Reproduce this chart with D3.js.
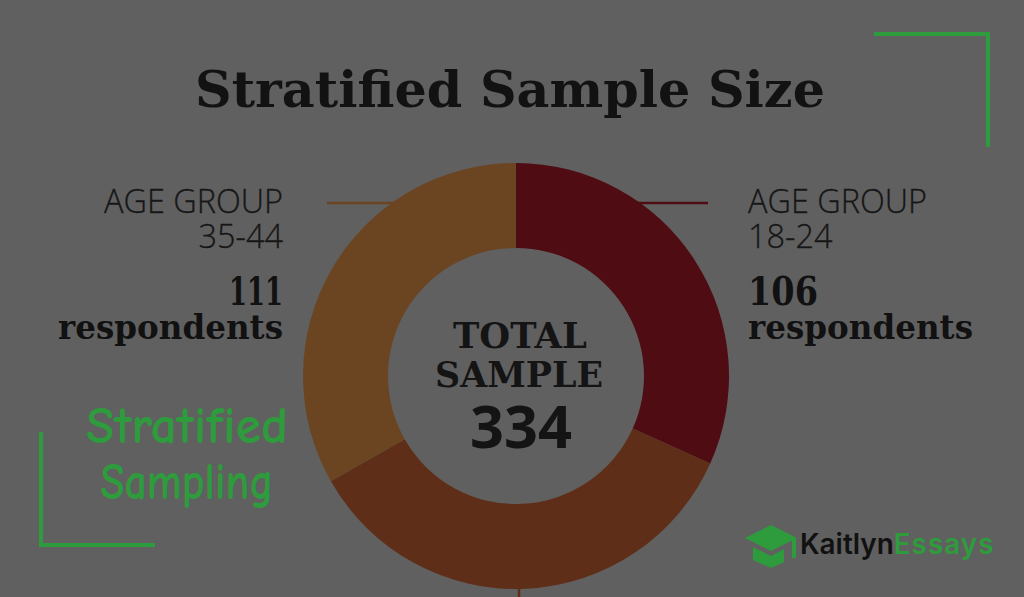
<!DOCTYPE html>
<html><head><meta charset="utf-8">
<script src="https://cdn.jsdelivr.net/npm/d3@7"></script>
<style>html,body{margin:0;padding:0;background:#606060;overflow:hidden}</style>
</head><body>
<svg id="c" width="1024" height="597"></svg>
<script>
const categories = ["18-24", "25-34", "35-44"];
const values = [106, 117, 111];
const segColors = ["#4f0c13", "#5f2e18", "#6b4522"];
const totalLabel = ["TOTAL", "SAMPLE"];
const title = "Stratified Sample Size";

const svg = d3.select("#c");
const W = 1024, H = 597;
svg.append("rect").attr("width", W).attr("height", H).attr("fill", "#606060");

const cx = 516, cy = 376, rOut = 213, rIn = 128;
const total = d3.sum(values);

function fit(sel, w) {
  const n = sel.node();
  const fs = parseFloat(sel.attr("font-size"));
  const cur = n.getComputedTextLength();
  if (cur > 0) sel.attr("font-size", fs * w / cur);
  return sel;
}

const slab = "'DejaVu Serif', 'Liberation Serif', serif";
const sans = "'Open Sans', 'Noto Sans', sans-serif";

// Title
svg.append("text").attr("x", 195).attr("y", 107)
  .attr("font-family", slab).attr("font-weight", "bold").attr("font-size", 51)
  .attr("textLength", 630).attr("lengthAdjust", "spacingAndGlyphs")
  .attr("fill", "#121212").text(title);

// Donut
const pie = d3.pie().sort(null).value(d => d).startAngle(0).endAngle(2 * Math.PI);
const arcs = pie(values);
const arc = d3.arc().innerRadius(rIn).outerRadius(rOut);

// Leader lines
const ly = 203;
const dxAt = Math.sqrt(rOut * rOut - (cy - ly) * (cy - ly));
svg.append("line").attr("x1", cx + dxAt - 50).attr("x2", 708).attr("y1", ly).attr("y2", ly)
  .attr("stroke", segColors[0]).attr("stroke-width", 2.5);
svg.append("line").attr("x1", 327).attr("x2", cx - dxAt + 50).attr("y1", ly).attr("y2", ly)
  .attr("stroke", segColors[2]).attr("stroke-width", 2.5);
svg.append("line").attr("x1", cx + 3).attr("x2", cx + 3).attr("y1", cy + rOut - 4).attr("y2", H)
  .attr("stroke", segColors[1]).attr("stroke-width", 2.5);

const g = svg.append("g").attr("transform", `translate(${cx},${cy})`);
g.selectAll("path").data(arcs).join("path")
  .attr("d", arc).attr("fill", (d, i) => segColors[i]);

// Center text
fit(svg.append("text").attr("x", 520).attr("y", 348).attr("text-anchor", "middle")
  .attr("font-family", slab).attr("font-weight", "bold").attr("font-size", 34)
  .attr("fill", "#141414").text(totalLabel[0]), 134);
fit(svg.append("text").attr("x", 519).attr("y", 387).attr("text-anchor", "middle")
  .attr("font-family", slab).attr("font-weight", "bold").attr("font-size", 34)
  .attr("fill", "#141414").text(totalLabel[1]), 168);
fit(svg.append("text").attr("x", 521).attr("y", 448).attr("text-anchor", "middle")
  .attr("font-family", sans).attr("font-weight", "bold").attr("font-size", 56)
  .attr("fill", "#141414").text(total), 102);

// Side labels
function sideLabel(x, anchor, idx, numW) {
  const ag = fit(svg.append("text").attr("x", x).attr("y", 213).attr("text-anchor", anchor)
    .attr("font-family", sans).attr("font-weight", 300).attr("font-size", 28)
    .attr("fill", "#161616").attr("stroke", "#161616").attr("stroke-width", 0.3)
    .text("AGE GROUP"), 179);
  svg.append("text").attr("x", x).attr("y", 248).attr("text-anchor", anchor)
    .attr("font-family", sans).attr("font-weight", 300).attr("font-size", ag.attr("font-size"))
    .attr("fill", "#161616").attr("stroke", "#161616").attr("stroke-width", 0.3)
    .text(categories[idx]);
  svg.append("text").attr("x", x).attr("y", 305).attr("text-anchor", anchor)
    .attr("font-family", slab).attr("font-weight", "bold").attr("font-size", 40)
    .attr("textLength", numW).attr("lengthAdjust", "spacingAndGlyphs")
    .attr("fill", "#111").text(values[idx]);
  svg.append("text").attr("x", x).attr("y", 339).attr("text-anchor", anchor)
    .attr("font-family", slab).attr("font-weight", "bold").attr("font-size", 34)
    .attr("textLength", 225).attr("lengthAdjust", "spacingAndGlyphs")
    .attr("fill", "#111").text("respondents");
}
sideLabel(748, "start", 0, 70);
sideLabel(283, "end", 2, 54);

// Green decorations
const green = "#2e9c3c";
svg.append("path").attr("d", "M874,34 H988 V147").attr("fill", "none")
  .attr("stroke", green).attr("stroke-width", 4);
svg.append("path").attr("d", "M41,432 V545 H155").attr("fill", "none")
  .attr("stroke", green).attr("stroke-width", 4);
const comic = "'Comic Sans MS', 'Comic Neue', Lato, sans-serif";
const s1 = fit(svg.append("text").attr("x", 187).attr("y", 443).attr("text-anchor", "middle")
  .attr("font-family", comic).attr("font-weight", "bold").attr("font-size", 38)
  .attr("fill", green).text("Stratified"), 202);
svg.append("text").attr("x", 187).attr("y", 499).attr("text-anchor", "middle")
  .attr("font-family", comic).attr("font-weight", "bold").attr("font-size", s1.attr("font-size"))
  .attr("textLength", 173).attr("lengthAdjust", "spacingAndGlyphs")
  .attr("fill", green).text("Sampling");

// Logo
const logo = svg.append("g");
logo.append("path").attr("d", "M745,538 L771,525 L797,538 L771,551 Z").attr("fill", green);
logo.append("path").attr("d", "M753,547 L771,556 L784,549 L784,562 L771,568 L753,560 Z").attr("fill", green);
logo.append("rect").attr("x", 792).attr("y", 539).attr("width", 4).attr("height", 19).attr("fill", green);
const lt = logo.append("text").attr("x", 800).attr("y", 554)
  .attr("font-family", "Inter, Lato, sans-serif").attr("font-weight", 600).attr("font-size", 26);
lt.append("tspan").attr("fill", "#111").text("Kaitlyn");
lt.append("tspan").attr("fill", green).attr("letter-spacing", 1).text("Essays");
fit(lt, 195);
</script>
</body></html>
